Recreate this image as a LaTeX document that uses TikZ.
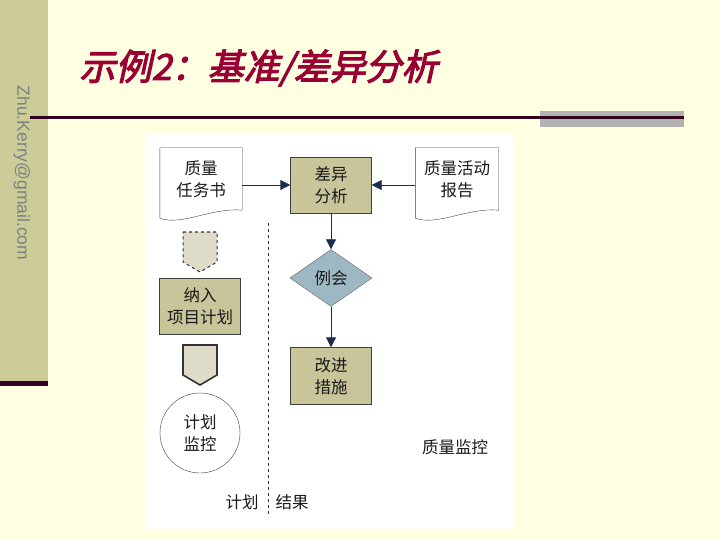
\documentclass[tikz,border=0pt]{standalone}
\usepackage{fontspec}
\setmainfont{Noto Sans CJK SC}
\newfontfamily\titlefont[FakeSlant=0.22,FakeBold=3]{Noto Sans CJK SC}
\newfontfamily\mailfont{Liberation Sans}
\usetikzlibrary{arrows.meta,shapes.geometric}

\definecolor{slidebg}{RGB}{255,255,226}
\definecolor{stripcol}{RGB}{204,204,153}
\definecolor{barcol}{RGB}{51,0,34}
\definecolor{titlecol}{RGB}{153,0,51}
\definecolor{greybar}{RGB}{178,178,178}
\definecolor{tanfill}{RGB}{201,197,155}
\definecolor{bluefill}{RGB}{157,183,195}
\definecolor{pentfill}{RGB}{222,219,200}
\definecolor{navy}{RGB}{26,46,79}

\tikzset{
  boxtext/.style={font=\fontsize{16.5}{22}\selectfont, align=center, text=black!90},
  stepbox/.style={boxtext, draw=black!75, fill=tanfill, minimum width=81pt, minimum height=56pt, inner sep=0pt},
  docnode/.style={boxtext, minimum width=82pt, minimum height=62pt, inner sep=0pt},
  docline/.style={draw=black!75, fill=white},
  flow/.style={navy, line width=0.9pt, -{Triangle[width=10pt,length=10pt]}},
}

\begin{document}
\begin{tikzpicture}[x=1pt,y=-1pt]
  % slide background
  \fill[slidebg] (0,0) rectangle (720,540);
  \fill[stripcol] (0,0) rectangle (48,383);
  \fill[barcol] (0,381) rectangle (48,386);
  \node[font=\mailfont\fontsize{17.5}{17.5}\selectfont, text=black!50, rotate=-90] (mail) at (22,173) {Zhu.Kerry@gmail.com};

  % title and rule
  \node[font=\titlefont\fontsize{36}{36}\selectfont, text=titlecol, anchor=west] (title) at (76,68) {示例2：基准/差异分析};
  \fill[greybar] (540,111) rectangle (684,127);
  \fill[barcol] (30,116) rectangle (684,119);

  % panel
  \fill[white] (145,134) rectangle (513,529);

  % documents
  \node[docnode] (task) at (201,179) {};
  \draw[docline] (task.south east) -- (task.north east) -- (task.north west) -- ([yshift=-8pt]task.south west)
    .. controls +(22,8) and +(-30,-3) .. (task.south east);
  \node[docnode] at (task) {质量\\任务书};
  \node[docnode, minimum width=83pt] (report) at (457,179) {};
  \draw[docline] (report.south east) -- (report.north east) -- (report.north west) -- ([yshift=-8pt]report.south west)
    .. controls +(22,8) and +(-30,-3) .. (report.south east);
  \node[docnode, minimum width=83pt] at (report) {质量活动\\报告};

  % flow
  \node[stepbox] (diff) at (331,185) {差异\\分析};
  \node[boxtext, diamond, draw=black!60, fill=bluefill, minimum width=82pt, minimum height=57pt, inner sep=0pt] (meet) at (331,278) {例会};
  \node[stepbox, minimum height=57pt] (improve) at (331,376) {改进\\措施};
  \node[stepbox] (plan) at (200,306) {纳入\\项目计划};
  \node[boxtext, circle, draw=black!75, fill=white, minimum size=80pt, inner sep=0pt] (monitor) at (200,433) {计划\\监控};

  \draw[flow] (task.east |- diff) -- (diff.west);
  \draw[flow] (report.west |- diff) -- (diff.east);
  \draw[flow] (diff) -- (meet);
  \draw[flow] (meet) -- (improve);

  % off-page markers
  \draw[fill=pentfill, draw=black!80, dashed, line width=1pt] (183,232) -- (217,232) -- (217,262) -- (200,272) -- (183,262) -- cycle;
  \draw[fill=pentfill, draw=black!80, line width=1.6pt] (183,345) -- (217,345) -- (217,375) -- (200,385) -- (183,375) -- cycle;

  % divider
  \draw[black!80, dashed, line width=0.8pt] (268,223) -- (268,517);
  \node[boxtext] (lplan) at (242,502) {计划};
  \node[boxtext] (lresult) at (292,502) {结果};
  \node[boxtext] (lquality) at (455,447) {质量监控};
\end{tikzpicture}
\end{document}
